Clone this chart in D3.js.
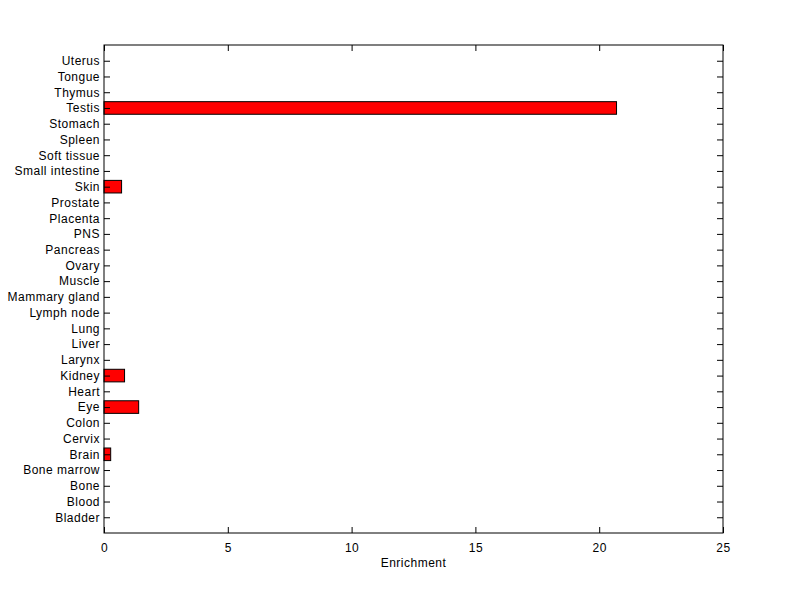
<!DOCTYPE html>
<html>
<head>
<meta charset="utf-8">
<script src="https://cdn.jsdelivr.net/npm/d3@7"></script>
<style>
  body { margin: 0; background: #fff; }
  text { font-family: "Liberation Sans", Arial, sans-serif; font-size: 12px; fill: #000; letter-spacing: 0.5px; }
</style>
</head>
<body>
<svg id="chart" width="800" height="599"></svg>
<script>
// categories from bottom to top, as in the figure
const tissues = ['Bladder', 'Blood', 'Bone', 'Bone marrow', 'Brain', 'Cervix', 'Colon', 'Eye',
  'Heart', 'Kidney', 'Larynx', 'Liver', 'Lung', 'Lymph node', 'Mammary gland', 'Muscle',
  'Ovary', 'Pancreas', 'PNS', 'Placenta', 'Prostate', 'Skin', 'Small intestine', 'Soft tissue',
  'Spleen', 'Stomach', 'Testis', 'Thymus', 'Tongue', 'Uterus']
const enrichment = [0, 0, 0, 0, 0.27, 0, 0, 1.4,
  0, 0.83, 0, 0, 0, 0, 0, 0,
  0, 0, 0, 0, 0, 0.71, 0, 0,
  0, 0, 20.7, 0, 0, 0]
const x_ticks = [0, 5, 10, 15, 20, 25]

const ax_left = 104, ax_right = 723, ax_top = 45, ax_bottom = 533
const tick_len = 6

const svg = d3.select('#chart')

const x = d3.scaleLinear().domain([0, 25]).range([ax_left, ax_right])
// MATLAB style: category i sits at value i+1, limits [0, n+1]
const y = d3.scaleLinear().domain([0, tissues.length + 1]).range([ax_bottom, ax_top])
const bar_h = (y(0) - y(0.8))

// bars
svg.selectAll('.bar')
  .data(enrichment.map((v, i) => ({ v, i })).filter(d => d.v > 0))
  .enter()
  .append('rect')
  .attr('class', 'bar')
  .attr('x', x(0))
  .attr('y', d => y(d.i + 1) - bar_h / 2)
  .attr('width', d => x(d.v) - x(0))
  .attr('height', bar_h)
  .attr('fill', '#ff0000')
  .attr('stroke', '#000')
  .attr('stroke-width', 1)

// bottom axis with inward ticks
const x_axis = svg.append('g')
  .attr('transform', `translate(0,${ax_bottom})`)
  .call(d3.axisBottom(x).tickValues(x_ticks).tickSizeInner(-tick_len).tickSizeOuter(0).tickPadding(10))
x_axis.select('.domain').remove()

// top ticks
svg.append('g')
  .attr('transform', `translate(0,${ax_top})`)
  .call(d3.axisTop(x).tickValues(x_ticks).tickSizeInner(-tick_len).tickSizeOuter(0).tickFormat(''))
  .select('.domain').remove()

// left axis with category labels
const y_vals = tissues.map((t, i) => i + 1)
const y_axis = svg.append('g')
  .attr('transform', `translate(${ax_left},0)`)
  .call(d3.axisLeft(y).tickValues(y_vals).tickFormat(v => tissues[v - 1])
    .tickSizeInner(-tick_len).tickSizeOuter(0).tickPadding(4))
y_axis.select('.domain').remove()
y_axis.selectAll('text').attr('x', -4)

// right ticks
svg.append('g')
  .attr('transform', `translate(${ax_right},0)`)
  .call(d3.axisRight(y).tickValues(y_vals).tickSizeInner(-tick_len).tickSizeOuter(0).tickFormat(''))
  .select('.domain').remove()

svg.selectAll('.tick line').attr('stroke', '#000')
svg.selectAll('.tick text')
  .style('font-family', '"Liberation Sans", Arial, sans-serif')
  .style('font-size', '12px')
  .style('letter-spacing', '0.5px')

// box
svg.append('rect')
  .attr('x', ax_left).attr('y', ax_top)
  .attr('width', ax_right - ax_left).attr('height', ax_bottom - ax_top)
  .attr('fill', 'none').attr('stroke', '#000').attr('stroke-width', 1)

svg.append('text')
  .attr('x', (ax_left + ax_right) / 2)
  .attr('y', 567)
  .attr('text-anchor', 'middle')
  .text('Enrichment')
</script>
</body>
</html>
